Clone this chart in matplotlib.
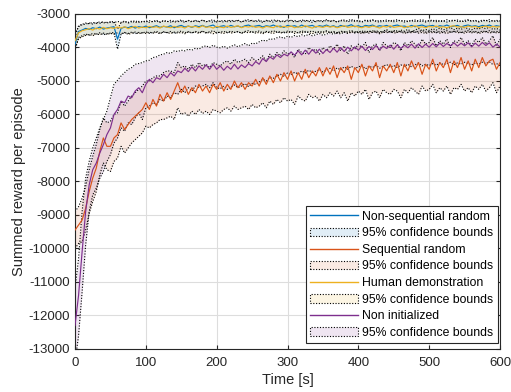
import numpy as np
import matplotlib
matplotlib.use("Agg")
import matplotlib.pyplot as plt
from matplotlib.lines import Line2D
from matplotlib.patches import Patch

plt.rcParams['font.family'] = ['Liberation Sans', 'DejaVu Sans']
plt.rcParams['axes.unicode_minus'] = False

t = np.arange(0, 601, 5)

blue_mean = [-3900, -3520, -3480, -3430, -3460, -3410, -3440, -3390, -3450, -3420,
             -3400, -3380, -3750, -3430, -3390, -3410, -3370, -3420, -3380, -3400,
             -3360, -3410, -3380, -3350, -3400, -3370, -3390, -3350, -3410, -3370,
             -3340, -3390, -3360, -3400, -3350, -3380, -3340, -3390, -3360, -3330,
             -3400, -3370, -3350, -3390, -3340, -3380, -3360, -3400, -3350, -3330,
             -3380, -3360, -3340, -3390, -3350, -3370, -3330, -3380, -3360, -3400,
             -3340, -3370, -3350, -3390, -3330, -3380, -3360, -3340, -3390, -3350,
             -3370, -3330, -3380, -3350, -3400, -3340, -3370, -3360, -3320, -3380,
             -3350, -3390, -3340, -3360, -3330, -3380, -3350, -3370, -3340, -3390,
             -3350, -3330, -3370, -3360, -3390, -3340, -3380, -3350, -3330, -3370,
             -3360, -3340, -3390, -3350, -3370, -3330, -3380, -3360, -3340, -3390,
             -3350, -3330, -3370, -3350, -3380, -3340, -3360, -3330, -3380, -3350,
             -3370]
blue_upper = [-3700, -3350, -3310, -3270, -3290, -3250, -3280, -3230, -3270, -3250,
              -3240, -3220, -3450, -3260, -3230, -3250, -3210, -3260, -3220, -3240,
              -3200, -3250, -3220, -3190, -3240, -3210, -3230, -3190, -3250, -3210,
              -3180, -3230, -3200, -3240, -3190, -3220, -3180, -3230, -3200, -3170,
              -3240, -3210, -3190, -3230, -3180, -3220, -3200, -3240, -3190, -3170,
              -3220, -3200, -3180, -3230, -3190, -3210, -3170, -3220, -3200, -3240,
              -3180, -3210, -3190, -3230, -3170, -3220, -3200, -3180, -3230, -3190,
              -3210, -3170, -3220, -3190, -3240, -3180, -3210, -3200, -3160, -3220,
              -3190, -3230, -3180, -3200, -3170, -3220, -3190, -3210, -3180, -3230,
              -3190, -3170, -3210, -3200, -3230, -3180, -3220, -3190, -3170, -3210,
              -3200, -3180, -3230, -3190, -3210, -3170, -3220, -3200, -3180, -3230,
              -3190, -3170, -3210, -3190, -3220, -3180, -3200, -3170, -3220, -3190,
              -3210]
blue_lower = [-4100, -3700, -3650, -3600, -3630, -3580, -3610, -3560, -3620, -3590,
              -3570, -3550, -4050, -3600, -3560, -3580, -3540, -3590, -3550, -3570,
              -3530, -3580, -3550, -3520, -3570, -3540, -3560, -3520, -3580, -3540,
              -3510, -3560, -3530, -3570, -3520, -3550, -3510, -3560, -3530, -3500,
              -3570, -3540, -3520, -3560, -3510, -3550, -3530, -3570, -3520, -3500,
              -3550, -3530, -3510, -3560, -3520, -3540, -3500, -3550, -3530, -3570,
              -3510, -3540, -3520, -3560, -3500, -3550, -3530, -3510, -3560, -3520,
              -3540, -3500, -3550, -3520, -3570, -3510, -3540, -3530, -3490, -3550,
              -3520, -3560, -3510, -3530, -3500, -3550, -3520, -3540, -3510, -3560,
              -3520, -3500, -3540, -3530, -3560, -3510, -3550, -3520, -3500, -3540,
              -3530, -3510, -3560, -3520, -3540, -3500, -3550, -3530, -3510, -3560,
              -3520, -3500, -3540, -3520, -3550, -3510, -3530, -3500, -3550, -3520,
              -3540]

orange_mean = [-9450, -9300, -9150, -8800, -8300, -7900, -7600, -7100, -6700, -6950,
               -6950, -6700, -6600, -6250, -6450, -6300, -6150, -6050, -5950, -5850,
               -5650, -5850, -5550, -5750, -5400, -5600, -5350, -5550, -5300, -5050,
               -5350, -5150, -5400, -5200, -5350, -5100, -5300, -5150, -5350, -5100,
               -5250, -5050, -5300, -5100, -5250, -5000, -5200, -5050, -5250, -5050,
               -5150, -4950, -5150, -4900, -5100, -4850, -5050, -4800, -5000, -4750,
               -4950, -4700, -5000, -4750, -4950, -4650, -4900, -4700, -4850, -4600,
               -4850, -4600, -4800, -4550, -4900, -4600, -4750, -4550, -4950, -4600,
               -4750, -4500, -4850, -4550, -4700, -4450, -4900, -4550, -4700, -4500,
               -4750, -4450, -4850, -4500, -4700, -4400, -4650, -4450, -4800, -4500,
               -4650, -4350, -4700, -4450, -4600, -4350, -4750, -4400, -4600, -4300,
               -4650, -4400, -4700, -4350, -4600, -4300, -4550, -4400, -4350, -4650,
               -4450]
orange_upper = [-8900, -8750, -8500, -8150, -7650, -7250, -6900, -6450, -6100, -6250,
                -6200, -6000, -5950, -5600, -5750, -5600, -5450, -5350, -5250, -5150,
                -5000, -5000, -4900, -4850, -4850, -4750, -4700, -4700, -4750, -4450,
                -4600, -4550, -4650, -4500, -4600, -4450, -4550, -4500, -4600, -4450,
                -4500, -4550, -4450, -4400, -4500, -4350, -4450, -4400, -4350, -4450,
                -4300, -4400, -4350, -4250, -4400, -4200, -4300, -4150, -4250, -4100,
                -4200, -4150, -4300, -4050, -4150, -4200, -4000, -4100, -4050, -4200,
                -4000, -4100, -3950, -4050, -3900, -4100, -3950, -4200, -3950, -4050,
                -3900, -4000, -3850, -4150, -3950, -3900, -4100, -3850, -3950, -4000,
                -3850, -3900, -4100, -3850, -3950, -3800, -3900, -4000, -3750, -3900,
                -3850, -3700, -3950, -3800, -3900, -3750, -4000, -3800, -3850, -3700,
                -3900, -3800, -3950, -3750, -3850, -3700, -3900, -3800, -3650, -3950,
                -3750]
orange_lower = [-10000, -9850, -9800, -9450, -8950, -8600, -8300, -7800, -7450, -7650,
                -7700, -7400, -7300, -6950, -7150, -7000, -6850, -6750, -6650, -6550,
                -6350, -6400, -6300, -6250, -6150, -6150, -6100, -6050, -6150, -5800,
                -6000, -5950, -6050, -5900, -6000, -5850, -5970, -5900, -6000, -5850,
                -5900, -5950, -5850, -5800, -5900, -5750, -5850, -5800, -5750, -5850,
                -5700, -5800, -5750, -5650, -5800, -5600, -5700, -5550, -5650, -5500,
                -5600, -5550, -5700, -5450, -5550, -5600, -5400, -5500, -5450, -5600,
                -5400, -5500, -5350, -5450, -5300, -5500, -5350, -5600, -5350, -5450,
                -5300, -5400, -5250, -5550, -5350, -5300, -5500, -5250, -5350, -5400,
                -5250, -5300, -5500, -5250, -5350, -5200, -5300, -5400, -5150, -5300,
                -5250, -5100, -5350, -5200, -5300, -5150, -5400, -5200, -5250, -5100,
                -5300, -5200, -5350, -5150, -5250, -5100, -5300, -5200, -5050, -5350,
                -5150]

yellow_mean = [-3800, -3560, -3500, -3470, -3440, -3480, -3420, -3450, -3400, -3440,
               -3410, -3430, -3390, -3420, -3380, -3440, -3400, -3370, -3420, -3390,
               -3410, -3370, -3400, -3380, -3420, -3360, -3390, -3410, -3370, -3400,
               -3380, -3420, -3360, -3390, -3370, -3410, -3350, -3400, -3380, -3420,
               -3370, -3390, -3410, -3360, -3400, -3380, -3350, -3410, -3370, -3390,
               -3360, -3400, -3380, -3420, -3370, -3390, -3410, -3350, -3400, -3370,
               -3390, -3360, -3410, -3380, -3400, -3350, -3390, -3420, -3370, -3380,
               -3400, -3360, -3390, -3370, -3410, -3380, -3350, -3400, -3380, -3360,
               -3390, -3410, -3370, -3400, -3360, -3380, -3420, -3370, -3390, -3350,
               -3400, -3380, -3360, -3410, -3370, -3390, -3350, -3400, -3380, -3410,
               -3370, -3390, -3360, -3400, -3380, -3410, -3370, -3350, -3390, -3380,
               -3400, -3360, -3390, -3370, -3410, -3380, -3360, -3400, -3370, -3390,
               -3380]
yellow_upper = [-3600, -3380, -3320, -3300, -3270, -3300, -3250, -3280, -3230, -3270,
                -3240, -3260, -3220, -3250, -3210, -3270, -3230, -3200, -3250, -3220,
                -3240, -3200, -3230, -3210, -3250, -3190, -3220, -3240, -3200, -3230,
                -3210, -3250, -3190, -3220, -3200, -3240, -3180, -3230, -3210, -3250,
                -3200, -3220, -3240, -3190, -3230, -3210, -3180, -3240, -3200, -3220,
                -3190, -3230, -3210, -3250, -3200, -3220, -3240, -3180, -3230, -3200,
                -3220, -3190, -3240, -3210, -3230, -3180, -3220, -3250, -3200, -3210,
                -3230, -3190, -3220, -3200, -3240, -3210, -3180, -3230, -3210, -3190,
                -3220, -3240, -3200, -3230, -3190, -3210, -3250, -3200, -3220, -3180,
                -3230, -3210, -3190, -3240, -3200, -3220, -3180, -3230, -3210, -3240,
                -3200, -3220, -3190, -3230, -3210, -3240, -3200, -3180, -3220, -3210,
                -3230, -3190, -3220, -3200, -3240, -3210, -3190, -3230, -3200, -3220,
                -3210]
yellow_lower = [-4000, -3740, -3680, -3640, -3610, -3650, -3590, -3620, -3570, -3610,
                -3580, -3600, -3560, -3590, -3550, -3610, -3570, -3540, -3590, -3560,
                -3580, -3540, -3570, -3550, -3590, -3530, -3560, -3580, -3540, -3570,
                -3550, -3590, -3530, -3560, -3540, -3580, -3520, -3570, -3550, -3590,
                -3540, -3560, -3580, -3530, -3570, -3550, -3520, -3580, -3540, -3560,
                -3530, -3570, -3550, -3590, -3540, -3560, -3580, -3520, -3570, -3540,
                -3560, -3530, -3580, -3550, -3570, -3520, -3560, -3590, -3540, -3550,
                -3570, -3530, -3560, -3540, -3580, -3550, -3520, -3570, -3550, -3530,
                -3560, -3580, -3540, -3570, -3530, -3550, -3590, -3540, -3560, -3520,
                -3570, -3550, -3530, -3580, -3540, -3560, -3520, -3570, -3550, -3580,
                -3540, -3560, -3530, -3570, -3550, -3580, -3540, -3520, -3560, -3550,
                -3570, -3530, -3560, -3540, -3580, -3550, -3530, -3570, -3540, -3560,
                -3550]

purple_mean = [-12300, -11400, -10100, -8900, -8100, -7650, -7450, -7150, -6900, -6600,
               -6400, -6000, -5850, -5600, -5650, -5450, -5500, -5300, -5200, -5350,
               -5100, -4950, -5050, -4900, -4950, -4800, -4900, -4750, -4850, -4700,
               -4750, -4620, -4720, -4580, -4700, -4550, -4650, -4520, -4650, -4500,
               -4650, -4550, -4680, -4560, -4650, -4500, -4640, -4520, -4600, -4480,
               -4550, -4420, -4500, -4330, -4420, -4280, -4350, -4220, -4300, -4200,
               -4250, -4130, -4230, -4100, -4220, -4080, -4200, -4060, -4170, -4050,
               -4180, -4060, -4150, -4020, -4140, -4000, -4120, -3990, -4100, -3980,
               -4080, -3960, -4090, -3970, -4060, -3940, -4070, -3960, -4030, -3930,
               -4050, -3920, -4030, -3930, -4010, -3900, -4020, -3890, -4000, -3900,
               -3990, -3880, -3980, -3870, -3970, -3880, -3950, -3860, -3960, -3870,
               -3950, -3860, -3980, -3870, -3960, -3850, -3940, -3860, -3990, -3900,
               -3980]
purple_upper = [-11200, -10300, -8900, -7900, -7400, -7000, -6700, -6400, -6150, -5900,
                -5500, -5100, -4980, -4850, -4750, -4650, -4600, -4500, -4480, -4450,
                -4400, -4380, -4300, -4280, -4220, -4200, -4150, -4180, -4100, -4120,
                -4080, -4100, -4050, -4080, -4020, -4050, -3980, -3950, -4000, -3930,
                -3990, -4010, -3960, -4020, -3970, -3920, -3980, -3930, -3880, -3950,
                -3870, -3890, -3830, -3780, -3810, -3740, -3760, -3710, -3680, -3730,
                -3660, -3700, -3640, -3680, -3620, -3660, -3600, -3650, -3620, -3580,
                -3640, -3600, -3560, -3610, -3550, -3600, -3540, -3580, -3520, -3570,
                -3540, -3500, -3570, -3510, -3550, -3490, -3560, -3510, -3470, -3540,
                -3490, -3550, -3480, -3510, -3460, -3530, -3480, -3430, -3500, -3460,
                -3490, -3440, -3480, -3420, -3470, -3440, -3400, -3470, -3420, -3460,
                -3400, -3440, -3470, -3420, -3450, -3400, -3440, -3390, -3460, -3430,
                -3480]
purple_lower = [-13400, -12600, -11300, -9900, -8900, -8400, -8200, -7900, -7700, -7400,
                -7200, -6850, -6700, -6400, -6500, -6250, -6300, -6100, -5950, -6150,
                -5800, -5750, -5650, -5700, -5550, -5600, -5450, -5500, -5350, -5400,
                -5250, -5350, -5200, -5300, -5150, -5200, -5150, -5100, -5200, -5050,
                -5200, -5230, -5150, -5250, -5180, -5120, -5200, -5150, -5080, -5170,
                -5070, -5100, -5030, -4950, -5000, -4900, -4920, -4850, -4800, -4870,
                -4760, -4820, -4740, -4790, -4700, -4760, -4680, -4740, -4710, -4660,
                -4730, -4680, -4620, -4700, -4610, -4670, -4580, -4650, -4560, -4630,
                -4580, -4540, -4640, -4560, -4600, -4530, -4620, -4560, -4510, -4590,
                -4540, -4600, -4520, -4560, -4500, -4580, -4520, -4460, -4550, -4500,
                -4540, -4480, -4530, -4460, -4510, -4480, -4440, -4520, -4460, -4500,
                -4440, -4480, -4520, -4460, -4500, -4440, -4480, -4430, -4510, -4480,
                -4540]

labels = ['Non-sequential random', 'Sequential random', 'Human demonstration', 'Non initialized']
colors = ['#0072BD', '#D95319', '#EDB120', '#7E2F8E']
means = [blue_mean, orange_mean, yellow_mean, purple_mean]
uppers = [blue_upper, orange_upper, yellow_upper, purple_upper]
lowers = [blue_lower, orange_lower, yellow_lower, purple_lower]
band_alpha = 0.12

fig = plt.figure(figsize=(5.11, 3.92), dpi=100)
ax = fig.add_axes([0.1468, 0.1097, 0.8317, 0.8546])

for m, u, l, c in zip(means, uppers, lowers, colors):
    ax.fill_between(t, l, u, color=c, alpha=band_alpha, linewidth=0, zorder=1)
for u, l in zip(uppers, lowers):
    ax.plot(t, u, linestyle=(0, (1, 1.5)), color='black', linewidth=0.8, zorder=2)
    ax.plot(t, l, linestyle=(0, (1, 1.5)), color='black', linewidth=0.8, zorder=2)
for m, c in zip(means, colors):
    ax.plot(t, m, color=c, linewidth=0.85, zorder=3)

ax.set_xlim(0, 600)
ax.set_ylim(-13000, -3000)
ax.set_xticks(np.arange(0, 601, 100))
ax.set_yticks(np.arange(-13000, -2999, 1000))
ax.grid(True, color='#dddddd', linewidth=0.8)
ax.set_axisbelow(True)
for s in ax.spines.values():
    s.set_color('#262626')
    s.set_linewidth(0.8)
ax.tick_params(direction='in', length=3, width=0.8, colors='#262626', labelsize=9.5,
               top=True, right=True)
ax.tick_params(axis='x', pad=6)
ax.set_xlabel('Time [s]', fontsize=10.5, color='#262626', labelpad=3)
ax.set_ylabel('Summed reward per episode', fontsize=10.5, color='#262626', labelpad=2)

handles = []
leg_labels = []
for lab, c in zip(labels, colors):
    handles.append(Line2D([0], [0], color=c, linewidth=1.0))
    leg_labels.append(lab)
    handles.append(Patch(facecolor=matplotlib.colors.to_rgba(c, band_alpha),
                         edgecolor='black', linestyle=(0, (1, 1.5)), linewidth=0.8))
    leg_labels.append('95% confidence bounds')
leg = ax.legend(handles, leg_labels, loc='lower right', bbox_to_anchor=(0.995, 0.017),
                fontsize=8.8, frameon=True, fancybox=False, framealpha=1,
                edgecolor='#262626', borderpad=0.35, labelspacing=0.38,
                handlelength=3.9, handletextpad=0.4, borderaxespad=0)
leg.get_frame().set_linewidth(0.8)

fig.savefig('out.png', dpi=100)
